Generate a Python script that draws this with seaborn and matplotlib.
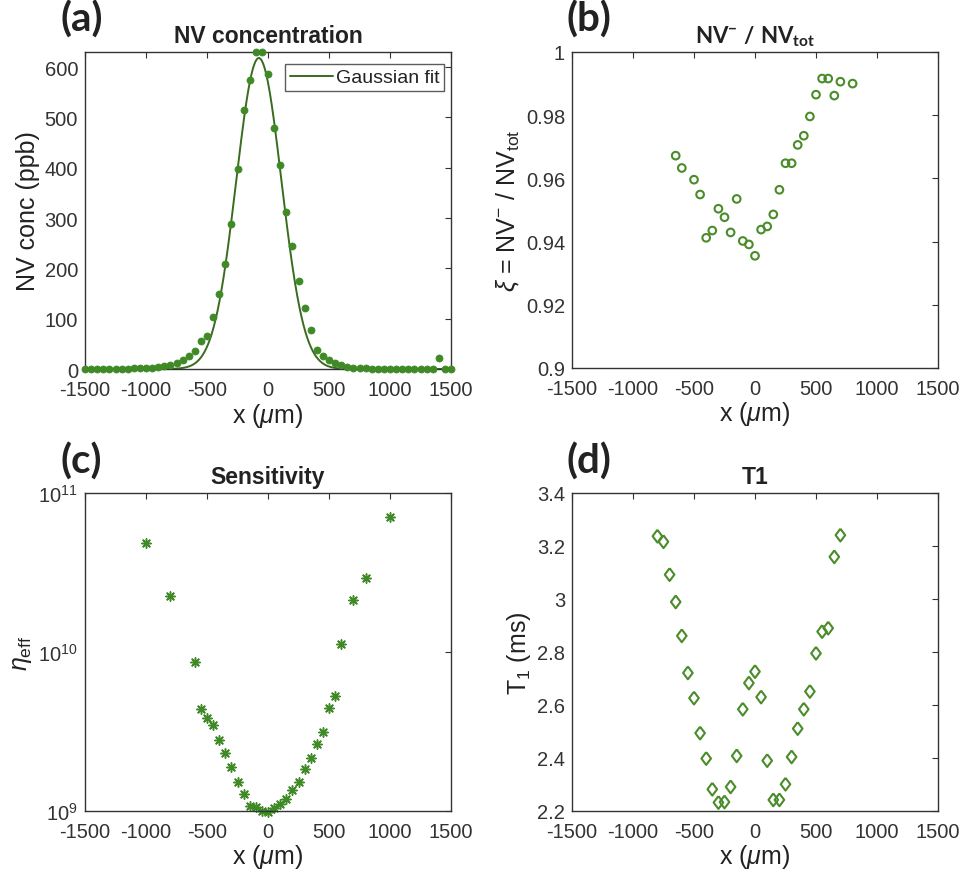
import numpy as np
import pandas as pd
import matplotlib
matplotlib.use("Agg")
import matplotlib.pyplot as plt
import seaborn as sns

# ---------------- data ----------------
# (a) NV concentration (ppb) vs x (um)
x_a = [-1500, -1450, -1400, -1350, -1300, -1250, -1200, -1150, -1100, -1050,
       -1000, -950, -900, -850, -800, -750, -700, -650, -600, -550,
       -500, -450, -400, -350, -300, -250, -200, -150, -100, -50,
       0, 50, 100, 150, 200, 250, 300, 350, 400, 450,
       500, 550, 600, 650, 700, 750, 800, 850, 900, 950,
       1000, 1050, 1100, 1150, 1200, 1250, 1300, 1350, 1400, 1450, 1500]
conc_a = [0, 0, 0, 0, 0, 0, 0, 0, 1, 1,
          1, 2, 3, 5, 8, 12, 17, 25, 36, 55,
          66, 104, 149, 208, 289, 397, 514, 575, 630, 630,
          587, 479, 406, 313, 245, 174, 122, 78, 38, 26,
          17, 11, 7, 3, 2, 1, 1, 0, 0, 0,
          0, 0, 0, 0, 0, 0, 0, 0, 22, 0, 0]
# Gaussian fit parameters
fit_amp = 618
fit_center = -75
fit_sigma = 185

# (b) NV- / NVtot
x_b = [-650, -600, -500, -450, -400, -350, -300, -250, -200, -150, -100, -50,
       0, 50, 100, 150, 200, 250, 300, 350, 400, 450, 500, 550, 600, 650, 700, 800]
xi_b = [0.9672, 0.9633, 0.9596, 0.9549, 0.9412, 0.9435, 0.9504, 0.9477, 0.9429,
        0.9535, 0.9402, 0.9391, 0.9355, 0.9438, 0.9448, 0.9486, 0.9564, 0.9648,
        0.9648, 0.9706, 0.9735, 0.9796, 0.9865, 0.9916, 0.9916, 0.9862, 0.9906, 0.9900]

# (c) Sensitivity eta_eff
x_c = [-1000, -800, -600, -550, -500, -450, -400, -350, -300, -250, -200, -150,
       -100, -50, 0, 50, 100, 150, 200, 250, 300, 350, 400, 450, 500, 550,
       600, 700, 800, 1000]
eta_c = [4.86e10, 2.24e10, 8.65e9, 4.37e9, 3.85e9, 3.45e9, 2.80e9, 2.32e9, 1.88e9,
         1.52e9, 1.27e9, 1.07e9, 1.06e9, 1.0e9, 0.99e9, 1.04e9, 1.10e9, 1.19e9,
         1.35e9, 1.52e9, 1.83e9, 2.15e9, 2.63e9, 3.13e9, 4.46e9, 5.28e9,
         1.13e10, 2.11e10, 2.94e10, 7.03e10]

# (d) T1 (ms)
x_d = [-800, -750, -700, -650, -600, -550, -500, -450, -400, -350, -300, -250,
       -200, -150, -100, -50, 0, 50, 100, 150, 200, 250, 300, 350, 400, 450,
       500, 550, 600, 650, 700]
t1_d = [3.237, 3.216, 3.092, 2.989, 2.861, 2.721, 2.626, 2.494, 2.398, 2.282,
        2.232, 2.234, 2.291, 2.408, 2.584, 2.683, 2.726, 2.630, 2.390, 2.242,
        2.242, 2.301, 2.404, 2.511, 2.584, 2.651, 2.795, 2.877, 2.890, 3.159, 3.241]

x_ticks = [-1500, -1000, -500, 0, 500, 1000, 1500]

# ---------------- style ----------------
sns.set_theme(style="white")
plt.rcParams["font.family"] = ["Liberation Sans", "DejaVu Sans"]
plt.rcParams["mathtext.fontset"] = "custom"
plt.rcParams["mathtext.rm"] = "Liberation Sans"
plt.rcParams["mathtext.it"] = "Liberation Sans:italic"
plt.rcParams["mathtext.bf"] = "Lato:bold"
plt.rcParams["axes.edgecolor"] = "#333333"
plt.rcParams["axes.linewidth"] = 1.0
plt.rcParams["xtick.direction"] = "in"
plt.rcParams["ytick.direction"] = "in"
plt.rcParams["xtick.color"] = "#333333"
plt.rcParams["ytick.color"] = "#333333"
plt.rcParams["text.color"] = "#222222"
plt.rcParams["axes.labelcolor"] = "#222222"

dot_col = "#3f8a26"
line_col = "#3a6b1f"
open_col = "#4a8c2a"

W, H = 961, 878
fig = plt.figure(figsize=(W / 100, H / 100), dpi=100)

def rect(l, r, t, b):
    return [l / W, 1 - b / H, (r - l) / W, (b - t) / H]

ax_a = fig.add_axes(rect(85, 451, 53, 370))
ax_b = fig.add_axes(rect(572, 938, 53, 369))
ax_c = fig.add_axes(rect(85, 451, 494, 812))
ax_d = fig.add_axes(rect(572, 938, 494, 812))

tick_fs = 14.5
label_fs = 18
title_fs = 16.5

def common(ax):
    ax.set_xlim(-1500, 1500)
    ax.set_xticks(x_ticks)
    ax.set_xticklabels([str(v) for v in x_ticks])
    ax.tick_params(axis="both", which="both", top=True, right=True,
                   length=4, width=0.8, labelsize=tick_fs)
    ax.tick_params(axis="x", pad=8)
    ax.tick_params(axis="y", pad=5)
    ax.set_xlabel(r"x ($\mu$m)", fontsize=label_fs, labelpad=1)
    for s in ax.spines.values():
        s.set_visible(True)
        s.set_color("#333333")

# (a)
df_a = pd.DataFrame({"x": x_a, "conc": conc_a})
sns.scatterplot(data=df_a, x="x", y="conc", ax=ax_a, color=dot_col, s=26,
                edgecolor=dot_col, linewidth=0.5, clip_on=False, zorder=3, legend=False)
x_fit = np.linspace(-1500, 1500, 601)
df_fit = pd.DataFrame({"x": x_fit,
                       "fit": fit_amp * np.exp(-(x_fit - fit_center) ** 2 / (2 * fit_sigma ** 2))})
sns.lineplot(data=df_fit, x="x", y="fit", ax=ax_a, color=line_col, linewidth=1.4,
             label="Gaussian fit", zorder=2)
ax_a.set_ylim(0, 630)
ax_a.set_yticks([0, 100, 200, 300, 400, 500, 600])
common(ax_a)
ax_a.set_ylabel("NV conc (ppb)", fontsize=label_fs, labelpad=3)
ax_a.set_title("NV concentration", fontsize=title_fs, fontweight="bold", pad=7)
leg = ax_a.legend(loc="upper right", fontsize=14, frameon=True, fancybox=False,
                  handlelength=2.2, borderpad=0.25, handletextpad=0.15,
                  borderaxespad=0.0, bbox_to_anchor=(444 / W, 1 - 65 / H),
                  bbox_transform=fig.transFigure)
leg.get_frame().set_edgecolor("#333333")
leg.get_frame().set_linewidth(1.0)

# (b)
df_b = pd.DataFrame({"x": x_b, "xi": xi_b})
sns.scatterplot(data=df_b, x="x", y="xi", ax=ax_b, facecolor="none",
                edgecolor=open_col, linewidth=1.5, s=30, marker="o", legend=False)
ax_b.set_ylim(0.9, 1.0)
ax_b.set_yticks([0.9, 0.92, 0.94, 0.96, 0.98, 1.0])
ax_b.set_yticklabels(["0.9", "0.92", "0.94", "0.96", "0.98", "1"])
common(ax_b)
ax_b.set_ylabel(r"$\xi$ = NV$^{-}$ / NV$_{\rm tot}$", fontsize=label_fs, labelpad=3)
ax_b.set_title(r"$\mathbf{NV}^{\mathbf{-}}$ $\mathbf{/}$ $\mathbf{NV}_{\mathbf{tot}}$",
               fontsize=title_fs - 0.5, pad=7)

# (c)
df_c = pd.DataFrame({"x": x_c, "eta": eta_c})
sns.scatterplot(data=df_c, x="x", y="eta", ax=ax_c, marker=(8, 2, 0),
                color=dot_col, edgecolor=dot_col, linewidth=1.1, s=45,
                clip_on=False, legend=False)
ax_c.set_yscale("log")
ax_c.set_ylim(1e9, 1e11)
ax_c.set_yticks([1e9, 1e10, 1e11])
ax_c.yaxis.set_minor_locator(matplotlib.ticker.NullLocator())
common(ax_c)
ax_c.set_ylabel(r"$\eta_{\rm eff}$", fontsize=label_fs, labelpad=3)
ax_c.set_title("Sensitivity", fontsize=title_fs, fontweight="bold", pad=7)

# (d)
df_d = pd.DataFrame({"x": x_d, "t1": t1_d})
diamond = [(0, 1), (0.75, 0), (0, -1), (-0.75, 0), (0, 1)]
sns.scatterplot(data=df_d, x="x", y="t1", ax=ax_d, marker=diamond,
                facecolor="none", edgecolor=open_col, linewidth=1.5, s=85,
                clip_on=False, legend=False)
ax_d.set_ylim(2.2, 3.4)
ax_d.set_yticks([2.2, 2.4, 2.6, 2.8, 3.0, 3.2, 3.4])
ax_d.set_yticklabels(["2.2", "2.4", "2.6", "2.8", "3", "3.2", "3.4"])
common(ax_d)
ax_d.set_ylabel(r"T$_1$ (ms)", fontsize=label_fs, labelpad=3)
ax_d.set_title("T1", fontsize=title_fs, fontweight="bold", pad=7)

# panel labels
for lab, px, py in [("(a)", 60, 20), ("(b)", 566, 20), ("(c)", 60, 462), ("(d)", 566, 462)]:
    fig.text(px / W, 1 - py / H, lab, fontsize=29, fontweight="bold",
             family=["Lato", "DejaVu Sans"], ha="left", va="center")

fig.savefig("out.png", dpi=100)
